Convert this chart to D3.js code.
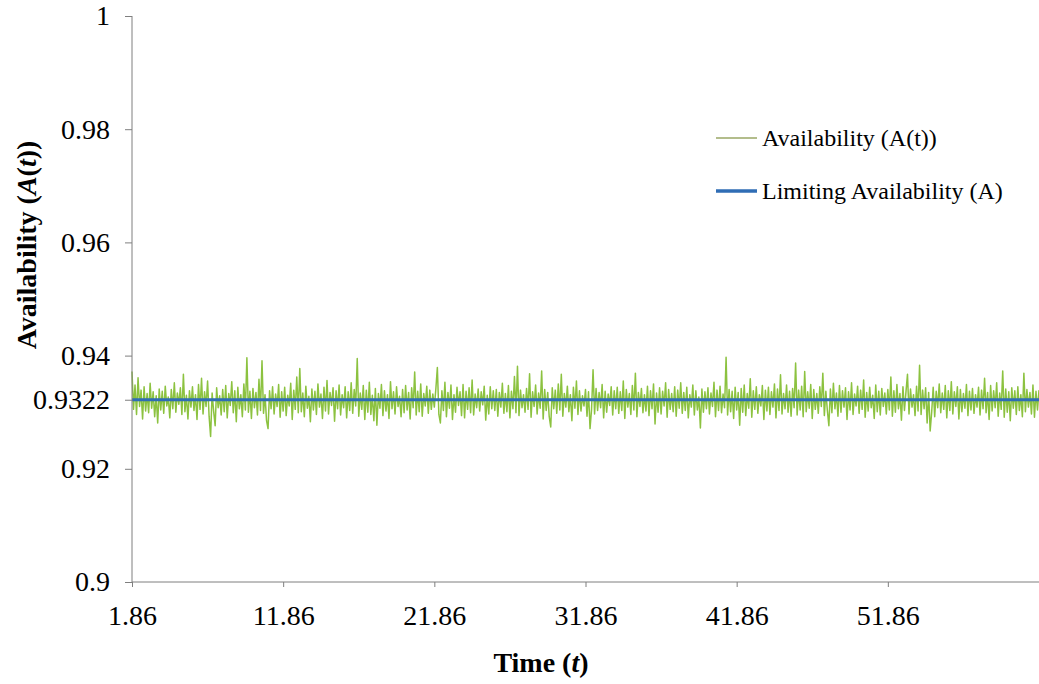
<!DOCTYPE html>
<html>
<head>
<meta charset="utf-8">
<script src="https://cdn.jsdelivr.net/npm/d3@7"></script>
<style>
  html, body { margin: 0; padding: 0; background: #fff; }
  svg { display: block; }
  text { font-family: "Liberation Serif", "Times New Roman", serif; fill: #000; }
</style>
</head>
<body>
<svg id="chart" width="1039" height="684"></svg>
<script>
// Simulated availability A(t), one value every 0.1 time units from t = 1.86
const tStart = 1.86;
const tStep = 0.1;
const availability = [
  0.9372,0.9305,0.9348,0.9296,0.9361,0.9310,0.9339,0.9288,0.9345,0.9302,0.9333,0.9299,0.9351,0.9307,0.9336,0.9292,0.9329,0.9281,0.9341,0.9304,
  0.9337,0.9298,0.9346,0.9311,0.9327,0.9290,0.9340,0.9306,0.9352,0.9300,0.9334,0.9314,0.9343,0.9296,0.9367,0.9301,0.9330,0.9288,0.9338,0.9309,
  0.9345,0.9303,0.9331,0.9287,0.9349,0.9305,0.9360,0.9297,0.9336,0.9310,0.9355,0.9293,0.9257,0.9334,0.9302,0.9276,0.9343,0.9308,0.9329,0.9295,
  0.9340,0.9301,0.9347,0.9290,0.9333,0.9312,0.9354,0.9299,0.9338,0.9283,0.9344,0.9306,0.9331,0.9292,0.9350,0.9304,0.9396,0.9300,0.9337,0.9289,
  0.9342,0.9308,0.9335,0.9295,0.9358,0.9303,0.9391,0.9298,0.9331,0.9285,0.9271,0.9338,0.9306,0.9345,0.9297,0.9332,0.9310,0.9349,0.9291,0.9336,
  0.9302,0.9344,0.9294,0.9330,0.9311,0.9351,0.9287,0.9339,0.9305,0.9362,0.9299,0.9377,0.9301,0.9334,0.9292,0.9346,0.9307,0.9328,0.9283,0.9341,
  0.9304,0.9337,0.9296,0.9350,0.9309,0.9332,0.9289,0.9344,0.9302,0.9356,0.9297,0.9335,0.9312,0.9343,0.9284,0.9338,0.9306,0.9348,0.9295,0.9331,
  0.9308,0.9345,0.9290,0.9336,0.9303,0.9352,0.9298,0.9340,0.9311,0.9395,0.9293,0.9334,0.9305,0.9347,0.9287,0.9339,0.9300,0.9353,0.9296,0.9330,
  0.9285,0.9342,0.9277,0.9333,0.9307,0.9349,0.9294,0.9338,0.9302,0.9331,0.9289,0.9354,0.9306,0.9336,0.9297,0.9345,0.9310,0.9328,0.9292,0.9340,
  0.9299,0.9347,0.9304,0.9335,0.9288,0.9343,0.9308,0.9371,0.9295,0.9337,0.9301,0.9350,0.9293,0.9333,0.9311,0.9346,0.9298,0.9339,0.9305,0.9332,
  0.9309,0.9341,0.9379,0.9296,0.9281,0.9338,0.9303,0.9353,0.9292,0.9335,0.9307,0.9348,0.9287,0.9331,0.9300,0.9344,0.9312,0.9336,0.9294,0.9349,
  0.9290,0.9337,0.9305,0.9343,0.9299,0.9357,0.9295,0.9332,0.9308,0.9341,0.9302,0.9336,0.9313,0.9346,0.9286,0.9330,0.9297,0.9345,0.9306,0.9338,
  0.9303,0.9340,0.9293,0.9335,0.9309,0.9351,0.9298,0.9333,0.9301,0.9347,0.9290,0.9337,0.9306,0.9363,0.9299,0.9381,0.9294,0.9339,0.9308,0.9331,
  0.9300,0.9342,0.9305,0.9368,0.9291,0.9336,0.9310,0.9348,0.9297,0.9334,0.9307,0.9373,0.9288,0.9340,0.9303,0.9335,0.9292,0.9274,0.9343,0.9306,
  0.9339,0.9298,0.9350,0.9304,0.9367,0.9293,0.9333,0.9309,0.9346,0.9301,0.9331,0.9285,0.9344,0.9307,0.9355,0.9296,0.9338,0.9302,0.9329,0.9311,
  0.9340,0.9293,0.9336,0.9271,0.9305,0.9375,0.9297,0.9342,0.9303,0.9335,0.9308,0.9349,0.9290,0.9337,0.9300,0.9332,0.9312,0.9345,0.9295,0.9338,
  0.9306,0.9344,0.9298,0.9336,0.9303,0.9355,0.9289,0.9340,0.9309,0.9333,0.9296,0.9347,0.9304,0.9369,0.9292,0.9335,0.9310,0.9342,0.9299,0.9331,
  0.9302,0.9346,0.9294,0.9338,0.9306,0.9350,0.9279,0.9334,0.9300,0.9343,0.9297,0.9337,0.9311,0.9352,0.9291,0.9340,0.9305,0.9333,0.9301,0.9345,
  0.9293,0.9339,0.9307,0.9352,0.9298,0.9335,0.9303,0.9344,0.9290,0.9331,0.9309,0.9348,0.9295,0.9338,0.9304,0.9327,0.9272,0.9341,0.9300,0.9336,
  0.9306,0.9343,0.9297,0.9334,0.9310,0.9353,0.9292,0.9339,0.9303,0.9346,0.9299,0.9332,0.9308,0.9397,0.9295,0.9340,0.9301,0.9337,0.9289,0.9344,
  0.9304,0.9335,0.9277,0.9342,0.9300,0.9348,0.9294,0.9333,0.9307,0.9359,0.9291,0.9338,0.9305,0.9345,0.9298,0.9331,0.9311,0.9347,0.9287,0.9339,
  0.9302,0.9344,0.9296,0.9336,0.9309,0.9350,0.9290,0.9341,0.9303,0.9366,0.9297,0.9333,0.9306,0.9348,0.9300,0.9337,0.9293,0.9342,0.9308,0.9387,
  0.9295,0.9339,0.9304,0.9346,0.9292,0.9372,0.9301,0.9336,0.9307,0.9349,0.9289,0.9340,0.9305,0.9333,0.9298,0.9345,0.9310,0.9369,0.9294,0.9337,
  0.9303,0.9276,0.9341,0.9299,0.9351,0.9306,0.9334,0.9293,0.9347,0.9300,0.9338,0.9309,0.9343,0.9287,0.9336,0.9304,0.9352,0.9296,0.9332,0.9311,
  0.9346,0.9298,0.9339,0.9305,0.9357,0.9291,0.9335,0.9302,0.9344,0.9308,0.9330,0.9289,0.9348,0.9301,0.9337,0.9295,0.9342,0.9310,0.9334,0.9297,
  0.9340,0.9304,0.9362,0.9293,0.9338,0.9300,0.9349,0.9306,0.9333,0.9286,0.9345,0.9303,0.9336,0.9367,0.9297,0.9341,0.9309,0.9331,0.9294,0.9346,
  0.9302,0.9383,0.9296,0.9339,0.9306,0.9343,0.9281,0.9335,0.9267,0.9300,0.9344,0.9292,0.9337,0.9308,0.9350,0.9299,0.9334,0.9305,0.9347,0.9290,
  0.9338,0.9303,0.9354,0.9297,0.9336,0.9310,0.9345,0.9288,0.9340,0.9301,0.9333,0.9307,0.9349,0.9294,0.9337,0.9304,0.9342,0.9298,0.9331,0.9309,
  0.9344,0.9295,0.9339,0.9306,0.9360,0.9299,0.9335,0.9287,0.9347,0.9302,0.9338,0.9308,0.9352,0.9293,0.9334,0.9305,0.9373,0.9291,0.9341,0.9300,
  0.9336,0.9285,0.9343,0.9307,0.9338,0.9296,0.9345,0.9303,0.9331,0.9292,0.9369,0.9301,0.9340,0.9309,0.9335,0.9297,0.9348,0.9291,0.9337,0.9304,
  0.9339
];
const limitingAvailability = 0.9322;

const xTickValues = [1.86, 11.86, 21.86, 31.86, 41.86, 51.86];
const yTickValues = [0.9, 0.92, 0.94, 0.96, 0.98, 1];
const legendLabels = ["Availability (A(t))", "Limiting Availability (A)"];

const series = availability.map((v, i) => ({ t: tStart + i * tStep, a: v }));
const tEnd = tStart + (availability.length - 1) * tStep;

const svg = d3.select("#chart");
const W = 1039, H = 684;
const margin = { left: 132, right: 0, top: 16, bottom: 102 };

const x = d3.scaleLinear().domain([tStart, tEnd]).range([margin.left, W - margin.right]);
const y = d3.scaleLinear().domain([0.9, 1]).range([H - margin.bottom, margin.top]);

const axisColor = "#7f7f7f";
const greenColor = "#8cc240";
const blueColor = "#2f6db5";

// availability trace
const line = d3.line().x(d => x(d.t)).y(d => y(d.a));
svg.append("path")
  .datum(series)
  .attr("fill", "none")
  .attr("stroke", greenColor)
  .attr("stroke-width", 1.5)
  .attr("stroke-linejoin", "round")
  .attr("d", line);

// limiting availability
svg.append("line")
  .attr("x1", x(tStart)).attr("x2", x(tEnd))
  .attr("y1", y(limitingAvailability)).attr("y2", y(limitingAvailability))
  .attr("stroke", blueColor)
  .attr("stroke-width", 3);

// y axis
const yAxis = d3.axisLeft(y)
  .tickValues(yTickValues.concat([limitingAvailability]))
  .tickFormat(d => String(+d.toFixed(4)))
  .tickSize(7)
  .tickPadding(15);
const gy = svg.append("g")
  .attr("transform", `translate(${margin.left},0)`)
  .call(yAxis);
gy.select(".domain").attr("stroke", axisColor).attr("d", `M0,${y(0.9)}V${y(1)}`);
gy.selectAll(".tick line").attr("stroke", axisColor);
gy.selectAll(".tick text")
  .style("font-family", "'Liberation Serif', serif")
  .style("font-size", "28px")
  .attr("fill", "#000");

// x axis
const xAxis = d3.axisBottom(x)
  .tickValues(xTickValues)
  .tickFormat(d => d.toFixed(2))
  .tickSize(5)
  .tickPadding(18);
const gx = svg.append("g")
  .attr("transform", `translate(0,${y(0.9)})`)
  .call(xAxis);
gx.select(".domain").attr("stroke", axisColor).attr("d", `M${margin.left},0H${W}`);
gx.selectAll(".tick line").attr("stroke", axisColor);
gx.selectAll(".tick text")
  .style("font-family", "'Liberation Serif', serif")
  .style("font-size", "28px")
  .attr("fill", "#000");

// axis titles
const xTitle = svg.append("text")
  .attr("x", 541).attr("y", 672)
  .attr("text-anchor", "middle")
  .style("font-size", "28px")
  .style("font-weight", "bold");
xTitle.append("tspan").text("Time (");
xTitle.append("tspan").style("font-style", "italic").text("t");
xTitle.append("tspan").text(")");

const yTitle = svg.append("text")
  .attr("transform", "translate(36,245) rotate(-90)")
  .attr("text-anchor", "middle")
  .style("font-size", "28px")
  .style("font-weight", "bold");
yTitle.append("tspan").text("Availability (");
yTitle.append("tspan").style("font-style", "italic").text("A");
yTitle.append("tspan").text("(");
yTitle.append("tspan").style("font-style", "italic").text("t");
yTitle.append("tspan").text("))");

// legend
const legend = svg.append("g").attr("transform", "translate(716,0)");
const legendStyles = [
  { color: "#b3bd8c", width: 2, y: 138 },
  { color: blueColor, width: 3.5, y: 191 }
];
legendLabels.forEach((label, i) => {
  const s = legendStyles[i];
  legend.append("line")
    .attr("x1", 0).attr("x2", 41)
    .attr("y1", s.y).attr("y2", s.y)
    .attr("stroke", s.color).attr("stroke-width", s.width);
  legend.append("text")
    .attr("x", 46).attr("y", s.y + 8)
    .style("font-size", "24px")
    .text(label);
});
</script>
</body>
</html>
